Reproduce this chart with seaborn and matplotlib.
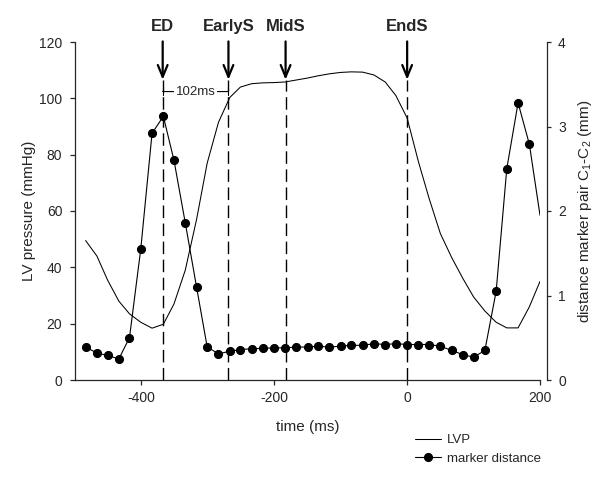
import matplotlib
matplotlib.use("Agg")
import matplotlib.pyplot as plt
import numpy as np
import pandas as pd
import seaborn as sns

# ---------------- data ----------------
time_ms = [-484, -467, -451, -434, -418, -401, -384, -367, -351, -334,
           -317, -301, -284, -267, -251, -234, -217, -200, -184, -167,
           -150, -134, -117, -100, -84, -67, -50, -33, -17, 0,
           17, 33, 50, 67, 84, 100, 117, 134, 150, 167, 184, 200]

lvp_mmhg = [49.5, 44.0, 35.5, 28.0, 23.5, 20.5, 18.4, 19.8, 27.0, 39.0,
            57.0, 77.0, 91.5, 100.3, 104.0, 105.2, 105.5, 105.6, 105.8, 106.5,
            107.2, 108.0, 108.7, 109.2, 109.4, 109.3, 108.3, 105.8, 101.0, 93.0,
            77.5, 64.5, 52.0, 43.5, 36.0, 29.5, 24.5, 20.5, 18.5, 18.5, 26.0, 35.0]

marker_mm = [0.39, 0.32, 0.29, 0.25, 0.50, 1.55, 2.92, 3.12, 2.60, 1.86,
             1.10, 0.39, 0.31, 0.34, 0.36, 0.37, 0.375, 0.38, 0.38, 0.39,
             0.39, 0.40, 0.39, 0.40, 0.41, 0.41, 0.43, 0.42, 0.43, 0.42,
             0.42, 0.42, 0.40, 0.35, 0.30, 0.27, 0.35, 1.05, 2.50, 3.28, 2.79, 1.95]

event_times = [-368, -269, -183, 0]
event_labels = ["ED", "EarlyS", "MidS", "EndS"]
interval_label = "102ms"
legend_labels = ["LVP", "marker distance"]

xticks = [-400, -200, 0, 200]
yticks_left = [0, 20, 40, 60, 80, 100, 120]
yticks_right = [0, 1, 2, 3, 4]

# ---------------- style ----------------
sns.set_style("ticks")
plt.rcParams["font.family"] = ["Liberation Sans", "DejaVu Sans"]
plt.rcParams["axes.unicode_minus"] = False
plt.rcParams["mathtext.fontset"] = "custom"
plt.rcParams["mathtext.rm"] = "Liberation Sans"
plt.rcParams["mathtext.it"] = "Liberation Sans:italic"
plt.rcParams["mathtext.bf"] = "Liberation Sans:bold"

W, H = 614, 482
fig = plt.figure(figsize=(W / 100, H / 100), dpi=100)
ax = fig.add_axes([75 / W, 1 - 380 / H, (540 - 75) / W, (380 - 42) / H])
ax2 = ax.twinx()

df = pd.DataFrame({"time": time_ms, "lvp": lvp_mmhg, "dist": marker_mm})

sns.lineplot(data=df, x="time", y="lvp", ax=ax, color="black", lw=0.75,
             legend=False, errorbar=None)
lvp_line = ax.lines[-1]
sns.lineplot(data=df, x="time", y="dist", ax=ax2, color="black", lw=0.8,
             marker="o", markersize=5.8, markeredgecolor="black",
             markevery=list(range(len(df) - 1)), legend=False, errorbar=None)
dist_line = ax2.lines[-1]

ax.set_xlim(-500, 200)
ax.set_ylim(0, 120)
ax2.set_ylim(0, 4)

# event markers
ax.vlines(event_times, 0, 106.5, colors="black", linestyles=(0, (9, 4)), lw=1.0)
for t, lab in zip(event_times, event_labels):
    ax.annotate("", xy=(t, 106.6), xytext=(t, 120.2),
                arrowprops=dict(arrowstyle="->,head_length=0.85,head_width=0.35",
                                lw=1.6, color="black", shrinkA=0, shrinkB=0),
                annotation_clip=False)
    ax.text(t, 125.6, lab, ha="center", va="center", fontsize=12,
            fontweight="bold", clip_on=False)

# 102 ms bracket
ax.annotate("", xy=(event_times[0], 102.4), xytext=(event_times[1], 102.4),
            arrowprops=dict(arrowstyle="|-|,widthA=0.25,widthB=0.25", lw=0.8,
                            color="black", shrinkA=0, shrinkB=0))
ax.text((event_times[0] + event_times[1]) / 2, 102.4, interval_label,
        ha="center", va="center", fontsize=9.5,
        bbox=dict(fc="white", ec="none", pad=1.0))

# axes styling
ax.set_xticks(xticks)
ax.set_yticks(yticks_left)
ax2.set_yticks(yticks_right)
for a in (ax, ax2):
    for s in a.spines.values():
        s.set_linewidth(0.9)
ax.spines["top"].set_visible(False)
ax.spines["right"].set_visible(False)
ax2.spines["top"].set_visible(False)
ax2.spines["left"].set_visible(False)
ax2.spines["bottom"].set_visible(False)
ax2.spines["right"].set_position(("outward", 5))

ax.tick_params(axis="y", direction="out", length=3.6, width=0.9, pad=5.5,
               labelsize=10)
ax.tick_params(axis="x", direction="out", length=3.6, width=0.9, pad=4.5,
               labelsize=10)
ax2.tick_params(axis="y", direction="out", length=3.0, width=0.9, pad=5.0,
                labelsize=10)

ax.set_xlabel("time (ms)", fontsize=11, labelpad=10.5)
ax.set_ylabel("LV pressure (mmHg)", fontsize=11, labelpad=2)
ax2.set_ylabel(r"distance marker pair C$_1$-C$_2$ (mm)", fontsize=11,
               labelpad=7, rotation=90)

fig.legend(handles=[lvp_line, dist_line], labels=legend_labels,
           loc="upper left", bbox_to_anchor=(415 / W, 1 - 434 / H),
           frameon=False, fontsize=9.5, handlelength=2.0, handletextpad=0.4,
           labelspacing=0.5, borderaxespad=0, borderpad=0)

fig.savefig("out.png", dpi=100)
